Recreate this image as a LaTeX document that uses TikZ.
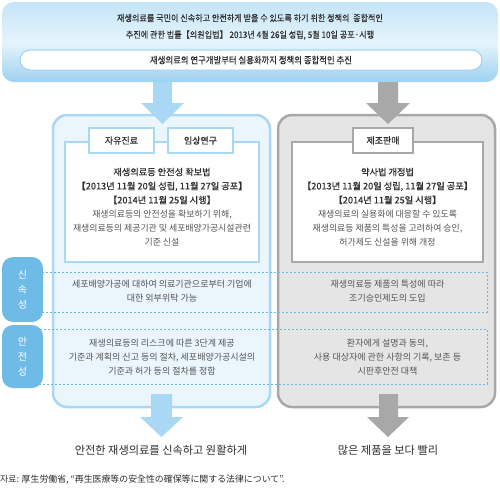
\documentclass[tikz,border=0pt]{standalone}
\usepackage{fontspec}
\setmainfont{Noto Sans CJK KR}
\newfontfamily\condfont[FakeStretch=0.9,FakeBold=0.3]{Noto Sans CJK KR}
\newfontfamily\heavyfont[FakeBold=0.5]{Noto Sans CJK KR}
\newcommand\myfs[2]{\fontsize{#1}{#2}\selectfont}
\definecolor{lblue}{HTML}{A8D8F4}
\definecolor{pblue}{HTML}{EAF5FC}
\definecolor{sblue}{HTML}{6DBBE6}
\definecolor{dblue}{HTML}{6DB6DD}
\definecolor{lgray}{HTML}{A8A8A8}
\definecolor{pgray}{HTML}{E5E5E5}
\definecolor{txtd}{HTML}{2E2E2E}
\definecolor{txtl}{HTML}{555555}
\definecolor{boxtop}{HTML}{C4E4F8}
\definecolor{boxmid}{HTML}{E6F4FC}
\definecolor{boxbot}{HTML}{9ED1F1}
\tikzset{
  x=1pt,y=-1pt,
  panelL/.style={draw=lblue,line width=2.5pt,fill=pblue,rounded corners=14pt},
  panelR/.style={draw=lgray,line width=2.5pt,fill=pgray,rounded corners=14pt},
  innerL/.style={draw=lblue,line width=2.2pt,fill=white},
  innerR/.style={draw=lgray,line width=2pt,fill=white},
  tagL/.style={draw=lblue,line width=2pt,fill=white,minimum width=65pt,minimum height=25pt,inner sep=0pt,text=txtd,font=\heavyfont\myfs{9}{11}},
  tagR/.style={tagL,draw=lgray,minimum width=60pt},
  side/.style={fill=sblue,rounded corners=11pt,text=white,font=\myfs{10}{15},align=center,inner sep=0pt},
  dashrow/.style={draw=dblue,line width=0.8pt,dash pattern=on 2pt off 2pt},
  hd/.style={text=txtd,font=\heavyfont\myfs{9.2}{14},align=center,inner sep=0pt},
  ds/.style={text=txtl,font=\myfs{8.9}{14},align=center,inner sep=0pt},
  rowtxt/.style={text=txtl,font=\myfs{9}{14},align=center,inner sep=0pt},
  result/.style={text=txtd,font=\myfs{11.2}{13},inner sep=0pt},
  ttl/.style={text=txtd,font=\condfont\myfs{9}{11},inner sep=0pt},
  arrowL/.style={fill=lblue},
  arrowR/.style={fill=lgray},
}
\begin{document}
\begin{tikzpicture}
\useasboundingbox (0,0) rectangle (500,496);
\fill[white] (0,0) rectangle (500,496);

% panels
\draw[panelL] (53,115) rectangle (270,407);
\draw[panelR] (278,115) rectangle (495,407);
\draw[innerL] (65,142) rectangle (259,262);
\draw[innerR] (292,142) rectangle (483,262);

% tags
\node[tagL] (tag1) at (121.5,140.5) {자유진료};
\node[tagL] (tag2) at (200.5,140.5) {임상연구};
\node[tagR] (tag3) at (383,140.5) {제조판매};

% inner texts
\node[hd] (hdL) at (162,186) {재생의료등 안전성 확보법\\【2013년 11월 20일 성립, 11월 27일 공포】\\【2014년 11월 25일 시행】};
\node[ds] (dsL) at (162,228) {재생의료등의 안전성을 확보하기 위해,\\재생의료등의 제공기관 및 세포배양가공시설관련\\기준 신설};
\node[hd] (hdR) at (387.5,186) {약사법 개정법\\【2013년 11월 20일 성립, 11월 27일 공포】\\【2014년 11월 25일 시행】};
\node[ds] (dsR) at (387.5,228) {재생의료의 실용화에 대응할 수 있도록\\재생의료등 제품의 특성을 고려하여 승인,\\허가제도 신설을 위해 개정};

% dashed rows
\draw[dashrow] (30,272) rectangle (487,312);
\draw[dashrow] (30,329) rectangle (487,384);

% side labels
\node[side,minimum width=41pt,minimum height=65pt] (sp) at (22.5,289.5) {신\\속\\성};
\node[side,minimum width=41pt,minimum height=63pt] (sf) at (22.5,356.5) {안\\전\\성};

% row texts
\node[rowtxt] (r1L) at (162,291) {세포배양가공에 대하여 의료기관으로부터 기업에\\대한 외부위탁 가능};
\node[rowtxt] (r1R) at (387.5,291) {재생의료등 제품의 특성에 따라\\조기승인제도의 도입};
\node[rowtxt] (r2L) at (162,357) {재생의료등의 리스크에 따른 3단계 제공\\기준과 계획의 신고 등의 절차, 세포배양가공시설의\\기준과 허가 등의 절차를 정함};
\node[rowtxt] (r2R) at (387.5,357) {환자에게 설명과 동의,\\사용 대상자에 관한 사항의 기록, 보존 등\\시판후안전 대책};

% arrows (top)
\fill[arrowL] (153,76) -- (172,76) -- (172,103) -- (184,103) -- (162.5,124) -- (141,103) -- (153,103) -- cycle;
\fill[arrowR] (378,76) -- (398,76) -- (398,103) -- (410,103) -- (388,124) -- (366,103) -- (378,103) -- cycle;
% arrows (bottom)
\fill[arrowL] (151,394) -- (172,394) -- (172,417) -- (183,417) -- (161.5,437) -- (140,417) -- (151,417) -- cycle;
\fill[arrowR] (379,394) -- (398,394) -- (398,417) -- (409,417) -- (388,437) -- (367,417) -- (379,417) -- cycle;

% top box
\shade[rounded corners=12pt,top color=boxtop,bottom color=boxbot,middle color=boxmid]
  (2,2) rectangle (498,82);
\node[ttl] (t1) at (250,18) {재생의료를 국민이 신속하고 안전하게 받을 수 있도록 하기 위한 정책의 \ 종합적인};
\node[ttl] (t2) at (250,35) {추진에 관한 법률【의원입법】 2013년 4월 26일 성립, 5월 10일 공포·시행};
\node[draw=lblue!80!sblue,line width=1pt,fill=white,rounded corners=10pt,minimum width=462pt,minimum height=20pt,inner sep=0pt,text=txtd,font=\condfont\myfs{9.3}{11}] (sub) at (251,60) {재생의료의 연구개발부터 실용화까지 정책의 종합적인 추진};

% results
\node[result] (resL) at (161,450) {안전한 재생의료를 신속하고 원활하게};
\node[result] (resR) at (388,450) {많은 제품을 보다 빨리};

% source
\node[anchor=west,text=txtd,font=\myfs{8.9}{10},inner sep=0pt] (src) at (0,480) {자료: 厚生労働省, “再生医療等の安全性の確保等に関する法律について”.};
\end{tikzpicture}
\end{document}
